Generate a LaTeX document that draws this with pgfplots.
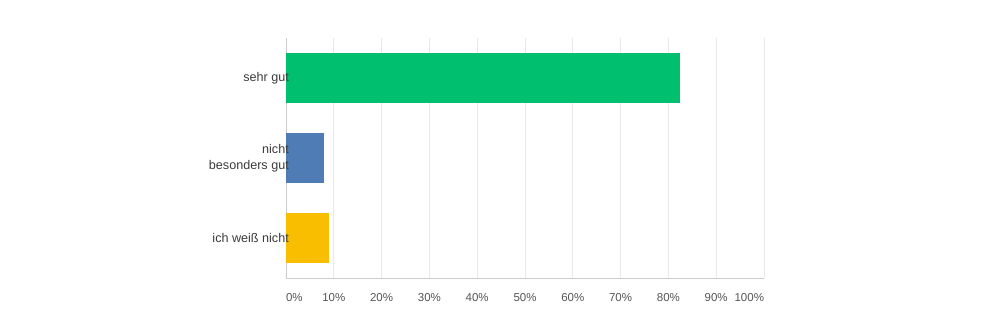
\documentclass[border=0pt]{standalone}
\usepackage{pgfplots}
\pgfplotsset{compat=1.18}
\usepackage{fontspec}
\setmainfont{Liberation Sans}
\definecolor{cgreen}{HTML}{00BF6F}
\definecolor{cblue}{HTML}{507CB6}
\definecolor{cyellow}{HTML}{F9BE00}
\definecolor{cgrid}{HTML}{E8E8E8}
\definecolor{caxis}{HTML}{CCCCCC}
\definecolor{ctext}{HTML}{3B3B3B}
\definecolor{ctick}{HTML}{555555}
\begin{document}
\begin{tikzpicture}[x=1pt,y=1pt]
\path[use as bounding box] (0,0) rectangle (1000,331);
\begin{axis}[
  at={(286pt,53pt)}, anchor=south west,
  scale only axis, width=478pt, height=240pt,
  xmin=0, xmax=100, ymin=-0.5, ymax=2.5,
  clip=false,
  xtick={0,10,...,100},
  xticklabels={\makebox[0pt][l]{0\%},10\%,20\%,30\%,40\%,50\%,60\%,70\%,80\%,90\%,\makebox[0pt][r]{100\%}},
  ytick=\empty,
  major tick length=0pt,
  xmajorgrids, grid style={cgrid, line width=0.8pt},
  axis line style={caxis, line width=0.8pt},
  axis x line*=bottom, axis y line*=left,
  separate axis lines,
  xticklabel style={font=\fontsize{11.5}{13}\selectfont, text=ctick, yshift=-12pt},
  xbar, bar width=50pt, bar shift=0pt,
]
\addplot[fill=cgreen, draw=none] coordinates {(82.4,2)};
\addplot[fill=cblue, draw=none] coordinates {(7.9,1)};
\addplot[fill=cyellow, draw=none] coordinates {(9.0,0)};
\begin{scope}[every node/.style={font=\fontsize{12.6}{16}\selectfont, text=ctext, align=right, anchor=east, inner sep=0pt}]
\node at ([xshift=3pt]axis cs:0,2) {sehr gut};
\node at ([xshift=3pt]axis cs:0,1) {nicht\\besonders gut};
\node at ([xshift=3pt]axis cs:0,0) {ich weiß nicht};
\end{scope}
\end{axis}
\end{tikzpicture}
\end{document}
